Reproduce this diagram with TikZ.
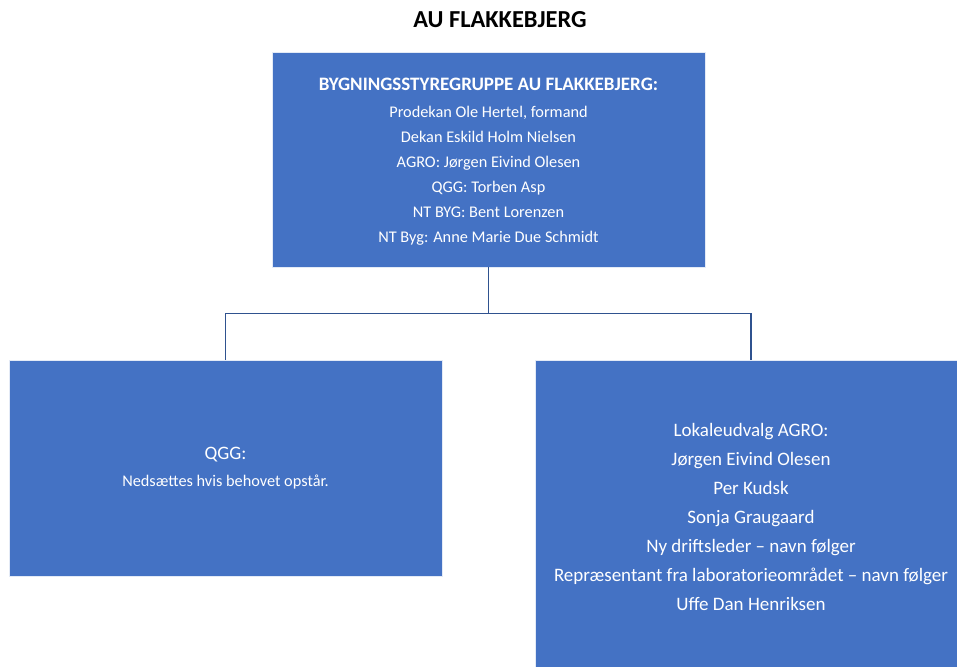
\documentclass[tikz,border=0pt]{standalone}
\usepackage{fontspec}
\setmainfont{Carlito}
\usetikzlibrary{positioning}
\definecolor{aublue}{HTML}{4472C4}
\definecolor{auline}{HTML}{2F528F}

\begin{document}
\begin{tikzpicture}[x=1pt, y=1pt,
                    main_box/.style={rectangle, draw=white!85!aublue, line width=0.6pt, fill=aublue, text=white, align=center, inner sep=0pt, minimum width=433pt, minimum height=215pt, font=\fontsize{16.3}{25}\selectfont},
                    sub_box/.style={rectangle, draw=white!85!aublue, line width=0.6pt, fill=aublue, text=white, align=center, inner sep=0pt, minimum width=433pt, minimum height=216pt},
                    org_line/.style={draw=auline, line width=1.5pt},
                    ]

    % Page
    \useasboundingbox (0,0) rectangle (957,-666);
    \clip (0,0) rectangle (957,-666);

    % Building steering group
    \node[main_box] (styregruppe) at (488.5,-159.5) {};
    \node[text=white, align=center, font=\fontsize{16.3}{25}\selectfont] (styretekst) at ([yshift=-2pt]styregruppe.center) {{\fontsize{19}{25}\selectfont\bfseries BYGNINGSSTYREGRUPPE AU FLAKKEBJERG:}\\[2pt]
        Prodekan Ole Hertel, formand\\
        Dekan Eskild Holm Nielsen\\
        AGRO: Jørgen Eivind Olesen\\
        QGG: Torben Asp\\
        NT BYG: Bent Lorenzen\\
        NT Byg: Anne Marie Due Schmidt};
    \node[font=\fontsize{24.4}{26}\selectfont\bfseries] (titel) at (500,-20) {AU FLAKKEBJERG};

    % Sub groups
    \node[sub_box, below=93pt of styregruppe, xshift=-263pt, font=\fontsize{16.3}{27}\selectfont] (qgg) {{\fontsize{19}{20}\selectfont QGG:}\\
        Nedsættes hvis behovet opstår.};
    \node[sub_box, below=93pt of styregruppe, xshift=262.5pt, minimum width=432pt, minimum height=312pt, font=\fontsize{19}{29}\selectfont] (agro) {Lokaleudvalg AGRO:\\
        Jørgen Eivind Olesen\\
        Per Kudsk\\
        Sonja Graugaard\\
        Ny driftsleder -- navn følger\\
        Repræsentant fra laboratorieområdet -- navn følger\\
        Uffe Dan Henriksen};

    % Connectors
    \draw[org_line] (styregruppe.south) -- ++(0,-46) -| (qgg.north);
    \draw[org_line] (styregruppe.south) -- ++(0,-46) -| (agro.north);

\end{tikzpicture}
\end{document}
